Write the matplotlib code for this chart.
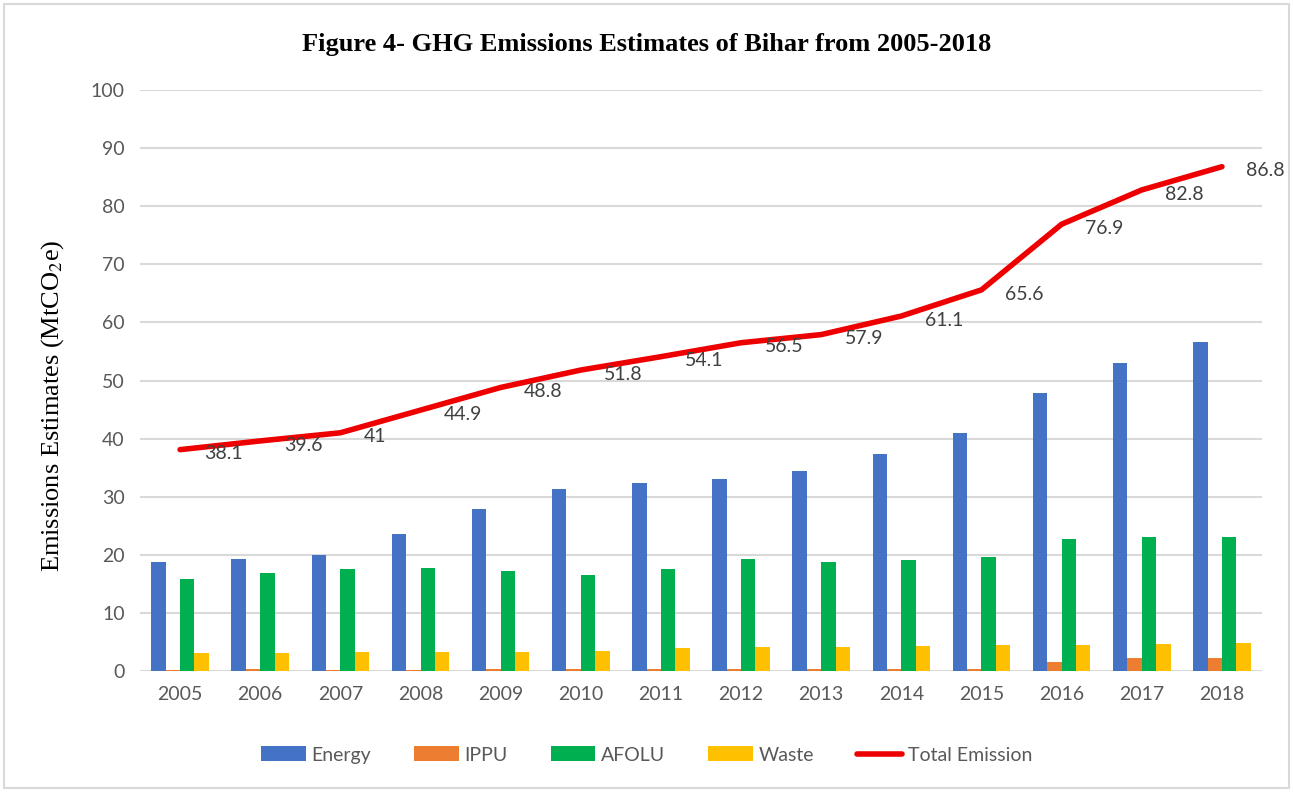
"""GHG emissions estimates of Bihar, 2005-2018: grouped bars plus total line."""

import matplotlib
matplotlib.use("Agg")
import matplotlib.pyplot as plt
import numpy as np
from matplotlib.patches import Rectangle

plt.rcParams["mathtext.fontset"] = "stix"

years = ["2005", "2006", "2007", "2008", "2009", "2010", "2011",
         "2012", "2013", "2014", "2015", "2016", "2017", "2018"]
energy = [18.8, 19.3, 20.0, 23.6, 27.9, 31.3, 32.3, 33.0, 34.5, 37.3, 41.0, 47.9, 53.0, 56.6]
ippu = [0.2, 0.3, 0.2, 0.2, 0.3, 0.3, 0.3, 0.3, 0.3, 0.3, 0.3, 1.6, 2.2, 2.2]
afolu = [15.9, 16.9, 17.5, 17.7, 17.2, 16.6, 17.5, 19.2, 18.7, 19.1, 19.6, 22.8, 23.0, 23.0]
waste = [3.1, 3.1, 3.2, 3.3, 3.3, 3.4, 3.9, 4.1, 4.2, 4.3, 4.4, 4.5, 4.7, 4.8]
total = [38.1, 39.6, 41, 44.9, 48.8, 51.8, 54.1, 56.5, 57.9, 61.1, 65.6, 76.9, 82.8, 86.8]

series = [("Energy", energy, "#4472c4"),
          ("IPPU", ippu, "#ed7d31"),
          ("AFOLU", afolu, "#00b050"),
          ("Waste", waste, "#ffc000")]

TEXT = "#595959"
GRID = "#d9d9d9"

fig = plt.figure(figsize=(12.93, 7.92), dpi=100)
ax = fig.add_axes([140 / 1293, 1 - 671 / 792, 1122 / 1293, 581 / 792])

x = np.arange(len(years))
w = 0.18
for i, (name, vals, color) in enumerate(series):
    ax.bar(x + (i - 1.5) * w, vals, w, color=color, label=name, zorder=2)

ax.plot(x, total, color="#ee0000", lw=4, solid_capstyle="round",
        label="Total Emission", zorder=3)
for xi, v in zip(x, total):
    ax.annotate(f"{v:g}", (xi, v), xytext=(17, -3), textcoords="offset points",
                ha="left", va="center", fontsize=14, color="#404040",
                family="Lato", zorder=4)

ax.set_xlim(-0.5, len(years) - 0.5)
ax.set_ylim(0, 100)
ax.set_yticks(range(0, 101, 10))
ax.set_xticks(x)
ax.set_xticklabels(years)
ax.grid(axis="y", color=GRID, lw=1.5, zorder=0)
ax.tick_params(length=0, labelsize=14, colors=TEXT, pad=11)
for lbl in ax.get_xticklabels() + ax.get_yticklabels():
    lbl.set_family("Lato")
for s in ax.spines.values():
    s.set_visible(False)

ax.set_ylabel("Emissions Estimates (MtCO$_2$e)", family="Liberation Serif",
              fontsize=19, color="black")
ax.yaxis.set_label_coords(-0.066, 0.456)
fig.text(0.5, 1 - 45 / 792, "Figure 4- GHG Emissions Estimates of Bihar from 2005-2018",
         ha="center", va="center", family="Liberation Serif", weight="bold", fontsize=19)

handles, labels = ax.get_legend_handles_labels()
order = [1, 2, 3, 4, 0]
leg = fig.legend([handles[i] for i in order], [labels[i] for i in order],
                 loc="center", bbox_to_anchor=(0.5, 1 - 755 / 792), ncol=5,
                 frameon=False, handlelength=2.3, handleheight=0.8,
                 columnspacing=2.2, handletextpad=0.3,
                 prop={"family": "Lato", "size": 14})
for t in leg.get_texts():
    t.set_color(TEXT)

fig.patches.append(Rectangle((4 / 1293, 4 / 792), 1 - 8 / 1293, 1 - 8 / 792,
                             transform=fig.transFigure, fill=False,
                             edgecolor=GRID, lw=1.5))

fig.savefig("out.png", dpi=100)
